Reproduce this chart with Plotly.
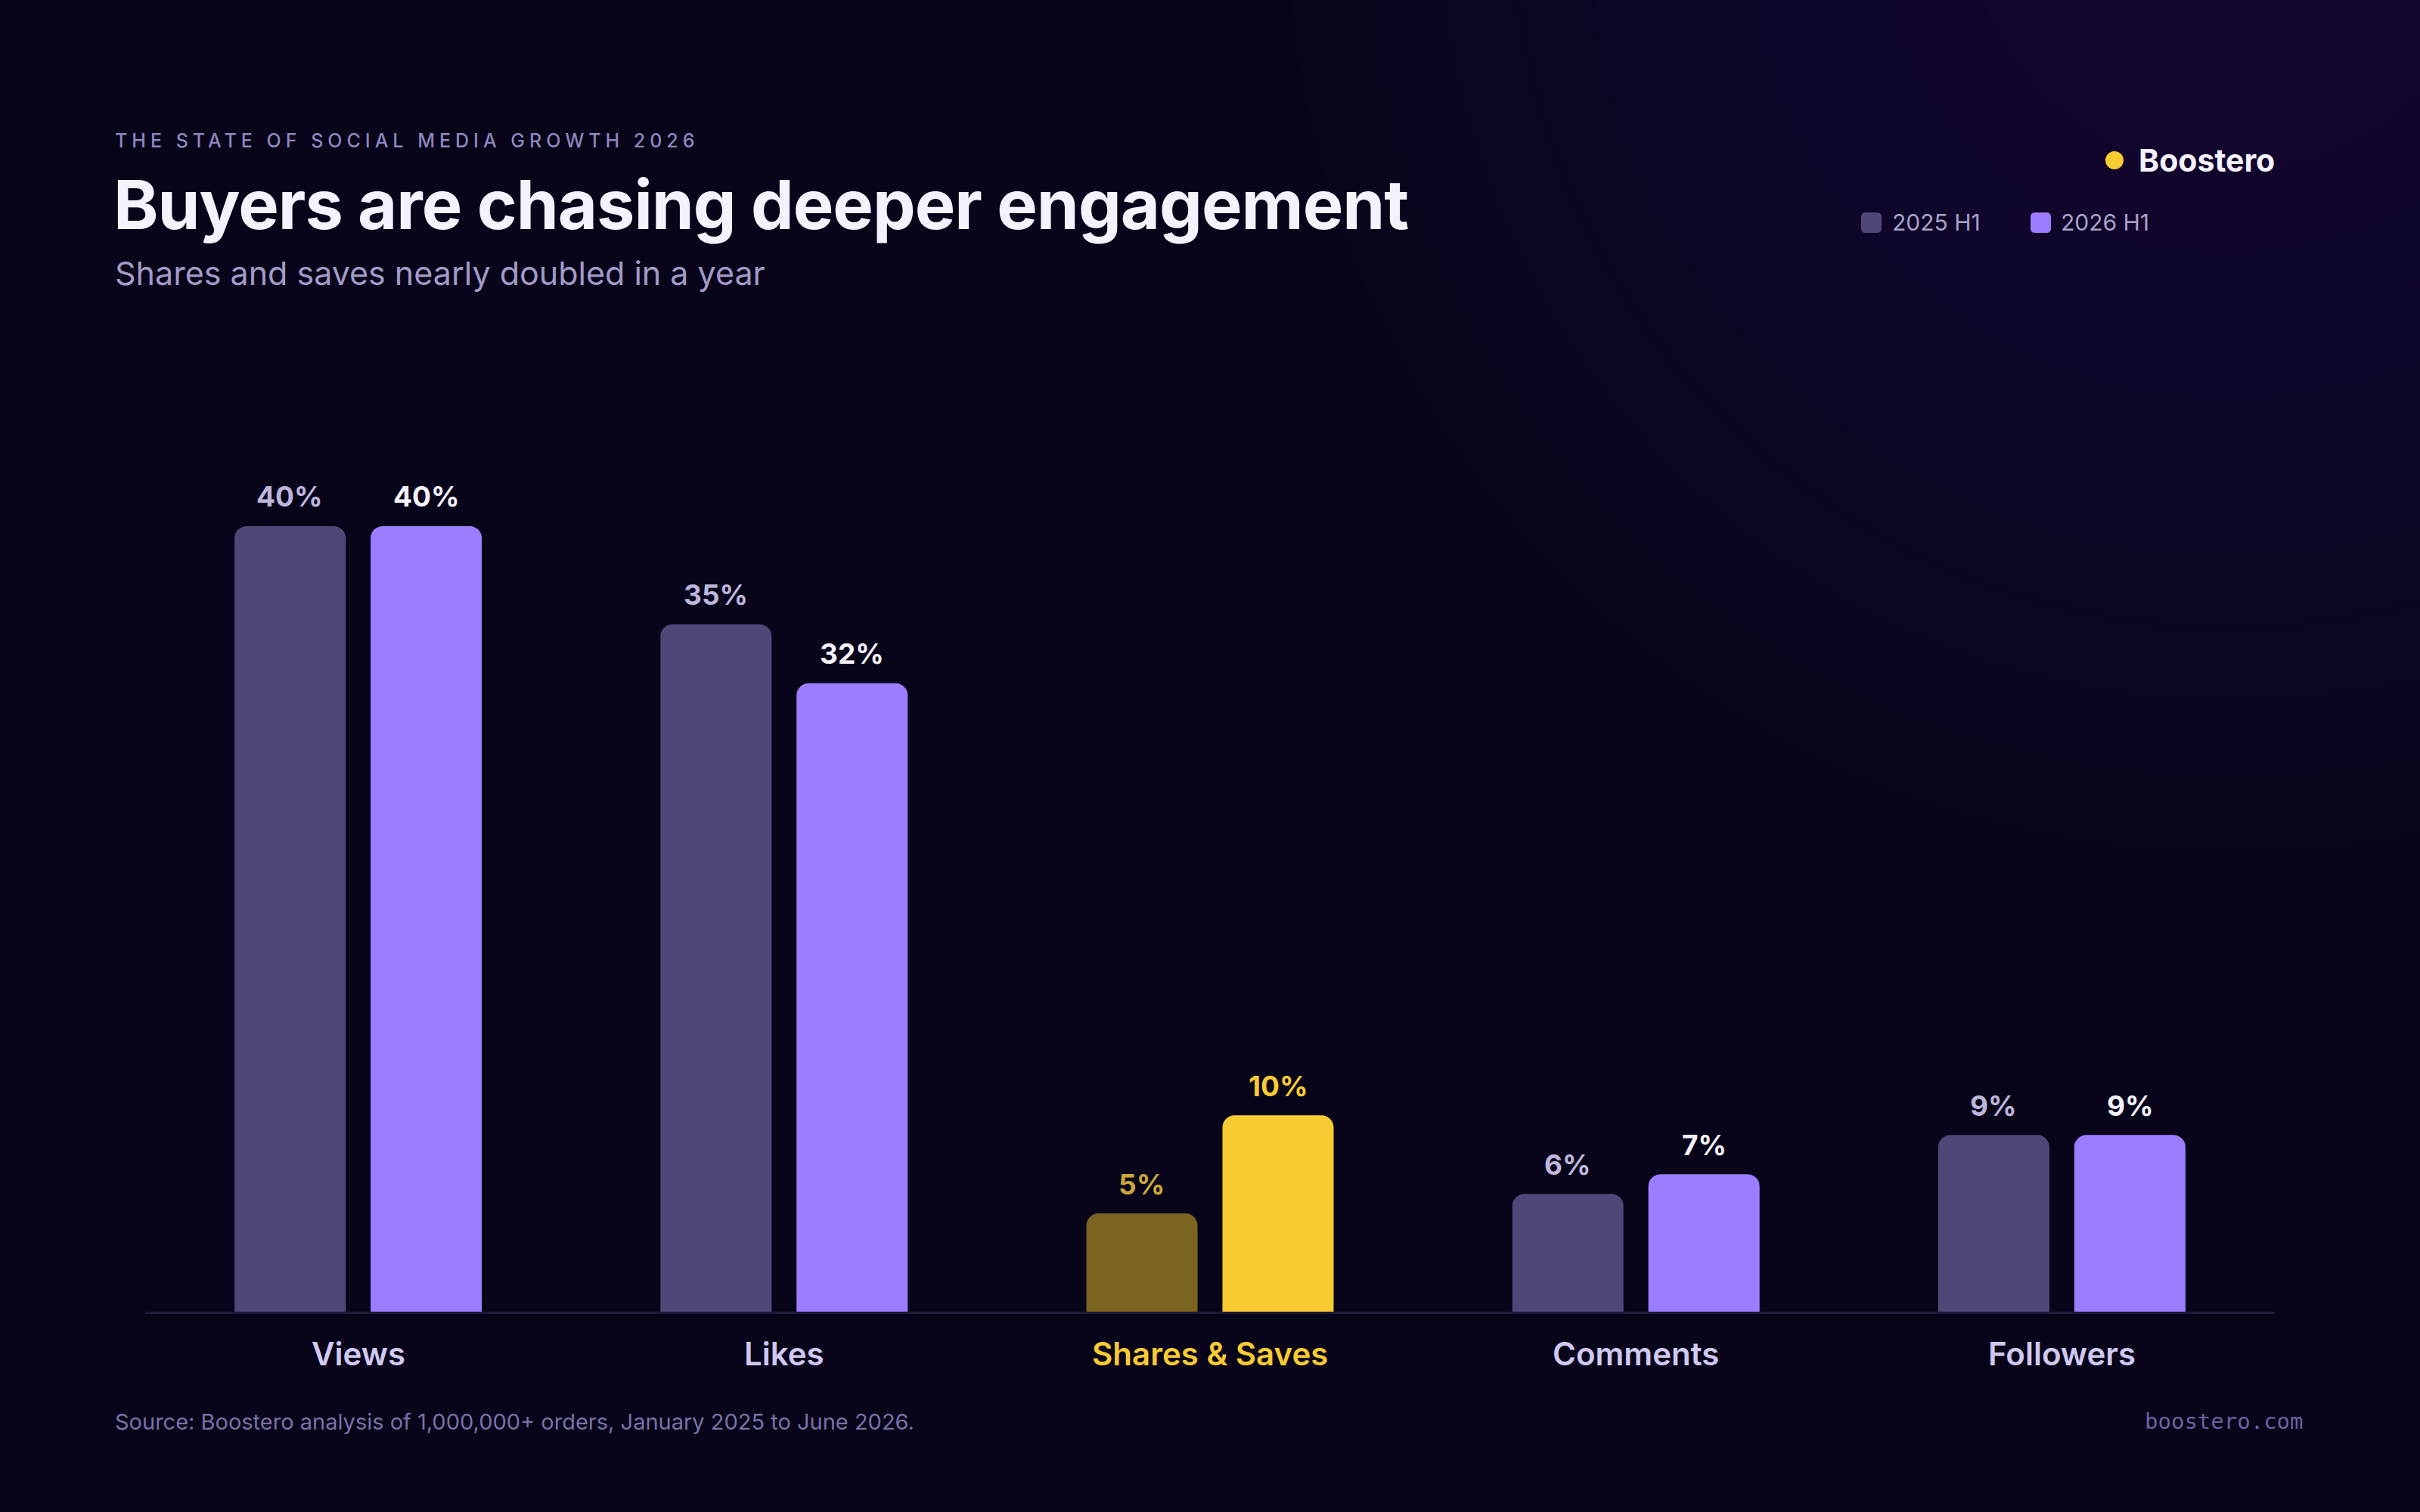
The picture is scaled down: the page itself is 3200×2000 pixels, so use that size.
import plotly.graph_objects as go

# ---------------- data ----------------
categories = ["Views", "Likes", "Shares & Saves", "Comments", "Followers"]
share_2025 = [40, 35, 5, 6, 9]
share_2026 = [40, 32, 10, 7, 9]
series_names = ["2025 H1", "2026 H1"]
highlight_category = "Shares & Saves"

eyebrow = "THE STATE OF SOCIAL MEDIA GROWTH 2026"
title = "Buyers are chasing deeper engagement"
subtitle = "Shares and saves nearly doubled in a year"
source = "Source: Boostero analysis of 1,000,000+ orders, January 2025 to June 2026."
brand = "Boostero"
site = "boostero.com"

# ---------------- style ----------------
W, H = 3200, 2000
L, R, T, B = 192, 3008, 566, 1735
BG = "#08051a"
C25 = "#4e4778"
C26 = "#9d7dff"
C25_HI = "#7a6420"
C26_HI = "#f9cb33"
LBL25 = "#bdb5dc"
LBL26 = "#f5f2ff"
LBL25_HI = "#c9a73a"
LBL26_HI = "#f9cb33"
CAT = "#d0c9f0"
FONT = "Inter"


def px2x(px):
    return (px - L) / (R - L)


def py2y(py):
    return (B - py) / (B - T)


hi = [c == highlight_category for c in categories]
xs = list(range(len(categories)))

fig = go.Figure()
fig.add_trace(go.Bar(
    x=xs, y=share_2025, name=series_names[0],
    marker=dict(color=[C25_HI if h else C25 for h in hi], cornerradius=16, line=dict(width=0)),
    showlegend=False, hoverinfo="x+y",
))
fig.add_trace(go.Bar(
    x=xs, y=share_2026, name=series_names[1],
    marker=dict(color=[C26_HI if h else C26 for h in hi], cornerradius=16, line=dict(width=0)),
    showlegend=False, hoverinfo="x+y",
))

annotations = []
off = 0.16
for i, (a, b) in enumerate(zip(share_2025, share_2026)):
    annotations.append(dict(x=i - off, y=a, xref="x", yref="y", text=f"{a}%", showarrow=False,
                            yshift=39, yanchor="middle",
                            font=dict(family=FONT, size=37, weight=700, color=LBL25_HI if hi[i] else LBL25)))
    annotations.append(dict(x=i + off, y=b, xref="x", yref="y", text=f"{b}%", showarrow=False,
                            yshift=39, yanchor="middle",
                            font=dict(family=FONT, size=37, weight=700, color=LBL26_HI if hi[i] else LBL26)))
    annotations.append(dict(x=i, y=0, xref="x", yref="y", text=categories[i], showarrow=False,
                            yshift=-55, yanchor="middle",
                            font=dict(family=FONT, size=42, weight=600, color=C26_HI if hi[i] else CAT)))


def ann(px, py, text, size, color, weight=400, xanchor="left", family=FONT):
    annotations.append(dict(x=px2x(px), y=py2y(py), xref="paper", yref="paper", text=text,
                            showarrow=False, xanchor=xanchor, yanchor="middle",
                            font=dict(family=family, size=size, weight=weight, color=color)))


ann(150, 186, f'<span style="letter-spacing:6px">{eyebrow}</span>', 25, "#8f86bf", 500)
ann(148, 271, f'<span style="letter-spacing:-1px">{title}</span>', 90, "#f5f2ff", 700)
ann(150, 361, subtitle, 43, "#a39ac6", 400)
ann(2826, 212, brand, 41, "#f5f2ff", 700)
ann(2500, 294, series_names[0], 30, "#a9a2c9", 400)
ann(2723, 294, series_names[1], 30, "#a9a2c9", 400)
ann(150, 1880, source, 29, "#7a71a6", 400)
ann(3048, 1880, site, 29, "#6b62a0", 400, xanchor="right", family="DejaVu Sans Mono")

shapes = []
# background glow (top-right)
for k in range(10):
    r = 1250 - k * 100
    cx, cy = 2950, -120
    shapes.append(dict(type="circle", xref="paper", yref="paper", layer="below",
                       x0=px2x(cx - r), x1=px2x(cx + r), y0=py2y(cy + r), y1=py2y(cy - r),
                       fillcolor="rgba(36,18,100,0.045)", line=dict(width=0)))


def rrect(x0, y0, x1, y1, r, color):
    X = px2x
    Y = py2y
    path = (f"M{X(x0+r)},{Y(y0)} L{X(x1-r)},{Y(y0)} Q{X(x1)},{Y(y0)} {X(x1)},{Y(y0+r)} "
            f"L{X(x1)},{Y(y1-r)} Q{X(x1)},{Y(y1)} {X(x1-r)},{Y(y1)} "
            f"L{X(x0+r)},{Y(y1)} Q{X(x0)},{Y(y1)} {X(x0)},{Y(y1-r)} "
            f"L{X(x0)},{Y(y0+r)} Q{X(x0)},{Y(y0)} {X(x0+r)},{Y(y0)} Z")
    shapes.append(dict(type="path", xref="paper", yref="paper", path=path,
                       fillcolor=color, line=dict(width=0), layer="above"))


rrect(2461, 281, 2488, 308, 6, C25)
rrect(2685, 281, 2712, 308, 6, C26)
shapes.append(dict(type="circle", xref="paper", yref="paper",
                   x0=px2x(2784), x1=px2x(2808), y0=py2y(224), y1=py2y(200),
                   fillcolor="#f9cb33", line=dict(width=0)))

fig.update_layout(
    width=W, height=H,
    margin=dict(l=L, r=W - R, t=T, b=H - B, pad=0),
    paper_bgcolor=BG, plot_bgcolor="rgba(0,0,0,0)",
    barmode="group", bargap=0.361, bargroupgap=0.183,
    showlegend=False,
    annotations=annotations, shapes=shapes,
    font=dict(family=FONT, color=CAT),
)
fig.update_xaxes(range=[-0.5, 4.5], tickvals=xs, ticktext=categories, showticklabels=False,
                 showgrid=False, zeroline=False, showline=True, linecolor="#1f1a36", linewidth=3,
                 layer="below traces", fixedrange=True)
fig.update_yaxes(range=[0, 45], showticklabels=False, showgrid=False, zeroline=False,
                 showline=False, fixedrange=True)

fig.write_html("out.html")
